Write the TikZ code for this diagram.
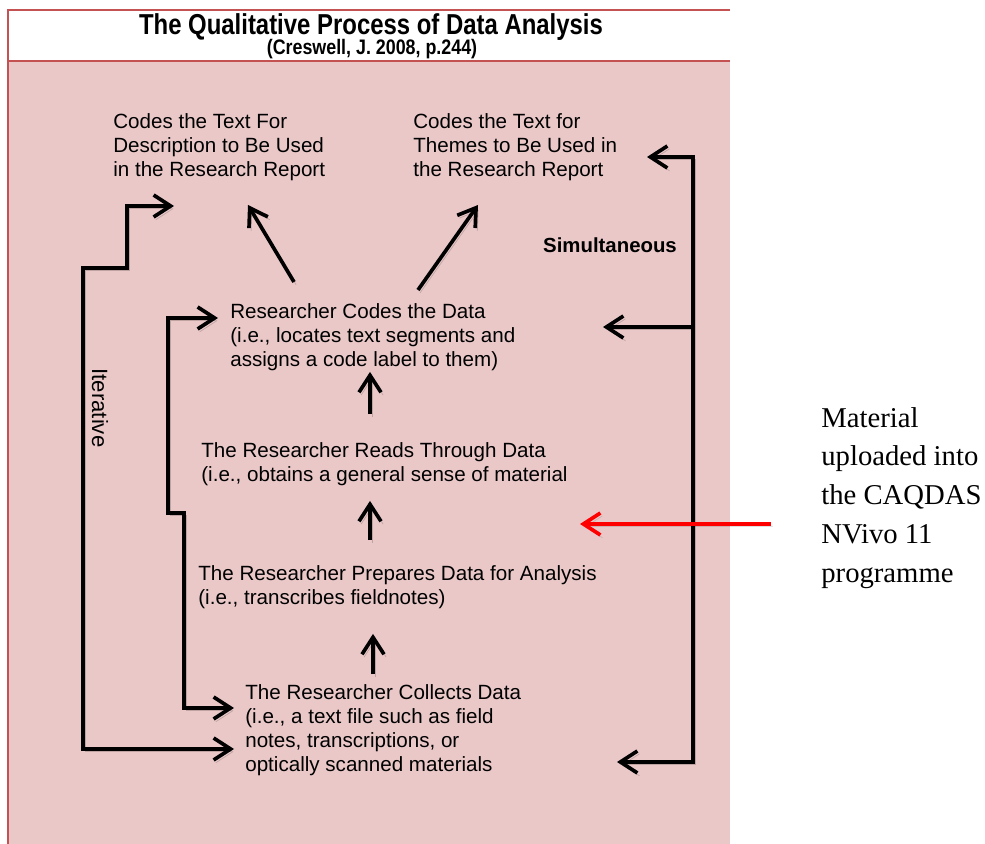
\documentclass[tikz,border=0pt]{standalone}
\usepackage{fontspec}
\setmainfont{Liberation Sans}
\newfontfamily\notefont{Liberation Serif}
\usetikzlibrary{arrows.meta}
\definecolor{panelpink}{RGB}{234,200,200}
\definecolor{framered}{RGB}{196,82,82}
\tikzstyle{stage} = [anchor=north west, align=left, inner sep=0pt, font=\fontsize{11.72}{13.66}\selectfont]
\tikzstyle{flow} = [draw=black, line width=2.1pt, preaction={draw=black, opacity=0.18, transform canvas={shift={(1.2pt,-1.6pt)}}}]
\tikzstyle{upload} = [draw=red, line width=2.1pt, preaction={draw=black, opacity=0.12, transform canvas={shift={(1.2pt,-1.6pt)}}}]

\begin{document}
\begin{tikzpicture}[x=0.02cm, y=-0.02cm, >={Straight Barb[length=0.34cm,width=0.44cm]}]

\useasboundingbox (0,0) rectangle (985,844);

\fill [panelpink] (8,10) rectangle (730,844);
\fill [white] (8,10) rectangle (730,61);
\draw [framered, line width=1pt] (8,844) -- (8,10) -- (730,10);
\draw [framered, line width=1.6pt] (8,61) -- (730,61);

\node [xscale=0.83, inner sep=0pt, font=\bfseries\fontsize{16.4}{18}\selectfont] (title) at (371,27) {The Qualitative Process of Data Analysis};
\node [xscale=0.85, inner sep=0pt, font=\bfseries\fontsize{11.95}{14}\selectfont] (source) at (372,49) {(Creswell, J. 2008, p.244)};

\node [stage] (description) at (113,113) {Codes the Text For\\Description to Be Used\\in the Research Report};
\node [stage] (themes) at (413,113) {Codes the Text for\\Themes to Be Used in\\the Research Report};
\node [font=\bfseries\fontsize{11.6}{13.66}\selectfont] (simultaneous) at (610,245) {Simultaneous};
\node [stage] (codes) at (230,303) {Researcher Codes the Data\\(i.e., locates text segments and\\assigns a code label to them)};
\node [stage] (reads) at (201,442) {The Researcher Reads Through Data\\(i.e., obtains a general sense of material};
\node [stage] (prepares) at (198,565) {The Researcher Prepares Data for Analysis\\(i.e., transcribes fieldnotes)};
\node [stage] (collects) at (245,684) {The Researcher Collects Data\\(i.e., a text file such as field\\notes, transcriptions, or\\optically scanned materials};
\node [rotate=-90, font=\fontsize{12.6}{14}\selectfont] (iterative) at (100,408) {Iterative};

\node [anchor=north west, align=left, inner sep=0pt, font=\notefont\fontsize{16.33}{22.05}\selectfont] (material) at (821,407) {Material\\uploaded into\\the CAQDAS\\NVivo 11\\programme};

% arrows up the middle
\coordinate (axis) at (370,0);
\draw [flow, ->, shorten <=0.56cm, shorten >=0.02cm] (reads.north -| axis) -- (codes.south -| axis);
\draw [flow, ->, shorten <=0.5cm, shorten >=0.3cm] (prepares.north -| axis) -- (reads.south -| axis);
\draw [flow, ->, shorten <=0.2cm, shorten >=0.5cm] ([xshift=0.06cm]collects.north -| axis) -- ([xshift=0.06cm]prepares.south -| axis);
\draw [flow, ->] (294,282) -- (248,205);
\draw [flow, ->] (418,290) -- (478,205);

% iterative loops
\coordinate (itTop) at (174,206);
\coordinate (itStep) at (127,268);
\coordinate (itLeft) at (83,268);
\coordinate (itBot) at (234,749);
\draw [flow, <->] (itTop) -| (itStep) -- (itLeft) |- (itBot);

\coordinate (inTop) at (218,318);
\coordinate (inA) at (168,513);
\coordinate (inB) at (184,513);
\coordinate (inBot) at (234,708);
\draw [flow, <->] (inTop) -| (inA) -- (inB) |- (inBot);

% simultaneous bracket
\coordinate (smTop) at (647,157);
\coordinate (smCorner) at (693,762);
\coordinate (smBot) at (617,762);
\coordinate (smMid) at (693,327);
\coordinate (smMidTip) at (603,327);
\draw [flow, <->] (smTop) -| (smCorner) -- (smBot);
\draw [flow, ->] (smMid) -- (smMidTip);

\coordinate (redStart) at (771,524);
\coordinate (redTip) at (580,524);
\draw [upload, ->] (redStart) -- (redTip);

\end{tikzpicture}
\end{document}
